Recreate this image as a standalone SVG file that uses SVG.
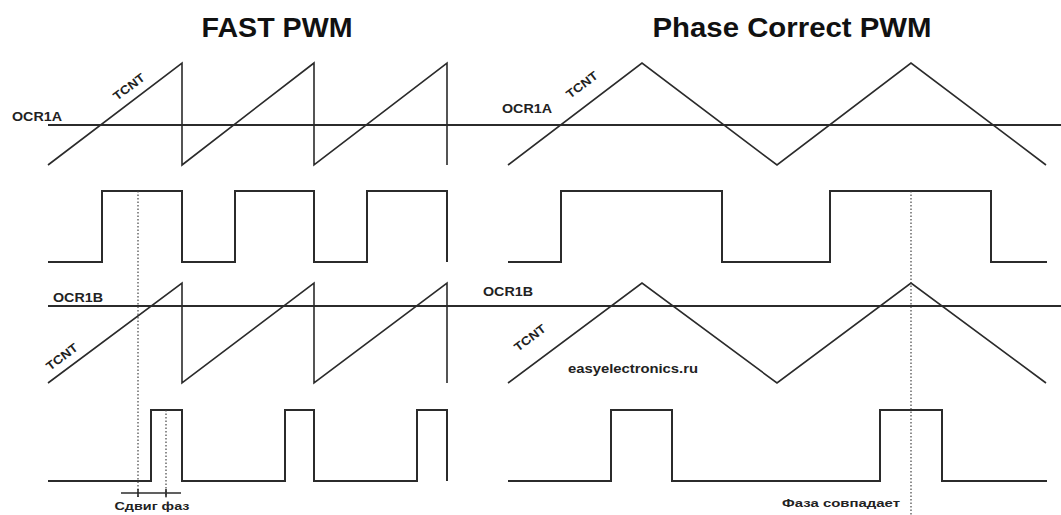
<svg xmlns="http://www.w3.org/2000/svg" width="1061" height="515" viewBox="0 0 1061 515">
<style>
.bg{fill:#ffffff}
.w{fill:none;stroke:#2b2b2b;stroke-width:1.6;stroke-linejoin:miter}
.sq{fill:none;stroke:#2b2b2b;stroke-width:2;stroke-linejoin:miter}
.ref{fill:none;stroke:#2b2b2b;stroke-width:1.8}
.dot{fill:none;stroke:#444;stroke-width:1.2;stroke-dasharray:1.5 2}
.title{font-family:"Liberation Sans",Arial,sans-serif;font-weight:bold;font-size:28px;fill:#111}
.lbl{font-family:"Liberation Sans",Arial,sans-serif;font-weight:bold;font-size:12px;fill:#222}
.cap{font-family:"Liberation Sans",Arial,sans-serif;font-weight:bold;font-size:11px;fill:#222}
</style>
<rect class="bg" x="0" y="0" width="1061" height="515"/>

<g id="titles">
<text class="title" x="277" y="37" text-anchor="middle" textLength="151" lengthAdjust="spacingAndGlyphs">FAST PWM</text>
<text class="title" x="792" y="37" text-anchor="middle" textLength="279" lengthAdjust="spacingAndGlyphs">Phase Correct PWM</text>
</g>

<g id="reference-lines">
<line class="ref" x1="48" y1="125" x2="1061" y2="125"/>
<line class="ref" x1="48" y1="306" x2="1061" y2="306"/>
</g>

<g id="fast-top">
<path class="w" d="M48,165 L182,63 L182,165 L314,63 L314,165 L447,63 L447,165"/>
<path class="sq" d="M48,262 L102,262 L102,191 L182,191 L182,262 L235,262 L235,191 L314,191 L314,262 L367,262 L367,191 L447,191 L447,262"/>
<text class="lbl" x="12" y="121" textLength="50" lengthAdjust="spacingAndGlyphs">OCR1A</text>
<text class="lbl" x="129" y="91" text-anchor="middle" textLength="36" lengthAdjust="spacingAndGlyphs" transform="rotate(-37 129 87)">TCNT</text>
</g>

<g id="fast-bottom">
<path class="w" d="M48,383 L182,283 L182,383 L314,283 L314,383 L447,283 L447,383"/>
<path class="sq" d="M48,481 L151,481 L151,410 L182,410 L182,481 L285,481 L285,410 L314,410 L314,481 L417,481 L417,410 L447,410 L447,481"/>
<text class="lbl" x="53" y="302" textLength="50" lengthAdjust="spacingAndGlyphs">OCR1B</text>
<text class="lbl" x="62" y="361" text-anchor="middle" textLength="36" lengthAdjust="spacingAndGlyphs" transform="rotate(-37 62 357)">TCNT</text>
</g>

<g id="phase-shift">
<line class="dot" x1="138" y1="191" x2="138" y2="498"/>
<line class="dot" x1="166" y1="410" x2="166" y2="498"/>
<line class="w" x1="121" y1="493" x2="181" y2="493"/>
<line class="w" x1="138" y1="489" x2="138" y2="497"/>
<line class="w" x1="166" y1="489" x2="166" y2="497"/>
<text class="cap" x="152" y="510" text-anchor="middle" textLength="75" lengthAdjust="spacingAndGlyphs">Сдвиг фаз</text>
</g>

<g id="phase-top">
<path class="w" d="M508,165 L642,63 L777,165 L911,63 L1046,165"/>
<path class="sq" d="M508,262 L561,262 L561,191 L722,191 L722,262 L830,262 L830,191 L991,191 L991,262 L1047,262"/>
<text class="lbl" x="502" y="113" textLength="50" lengthAdjust="spacingAndGlyphs">OCR1A</text>
<text class="lbl" x="582" y="89" text-anchor="middle" textLength="36" lengthAdjust="spacingAndGlyphs" transform="rotate(-37 582 85)">TCNT</text>
</g>

<g id="phase-bottom">
<path class="w" d="M508,383 L642,283 L777,383 L911,283 L1046,383"/>
<path class="sq" d="M508,481 L611,481 L611,410 L672,410 L672,481 L880,481 L880,410 L942,410 L942,481 L1047,481"/>
<text class="lbl" x="483" y="296" textLength="50" lengthAdjust="spacingAndGlyphs">OCR1B</text>
<text class="lbl" x="530" y="342" text-anchor="middle" textLength="36" lengthAdjust="spacingAndGlyphs" transform="rotate(-37 530 338)">TCNT</text>
<text class="lbl" x="568" y="373" textLength="130" lengthAdjust="spacingAndGlyphs">easyelectronics.ru</text>
</g>

<g id="phase-match">
<line class="dot" x1="911" y1="191" x2="911" y2="515"/>
<text class="cap" x="841" y="507" text-anchor="middle" textLength="118" lengthAdjust="spacingAndGlyphs">Фаза совпадает</text>
</g>
</svg>
